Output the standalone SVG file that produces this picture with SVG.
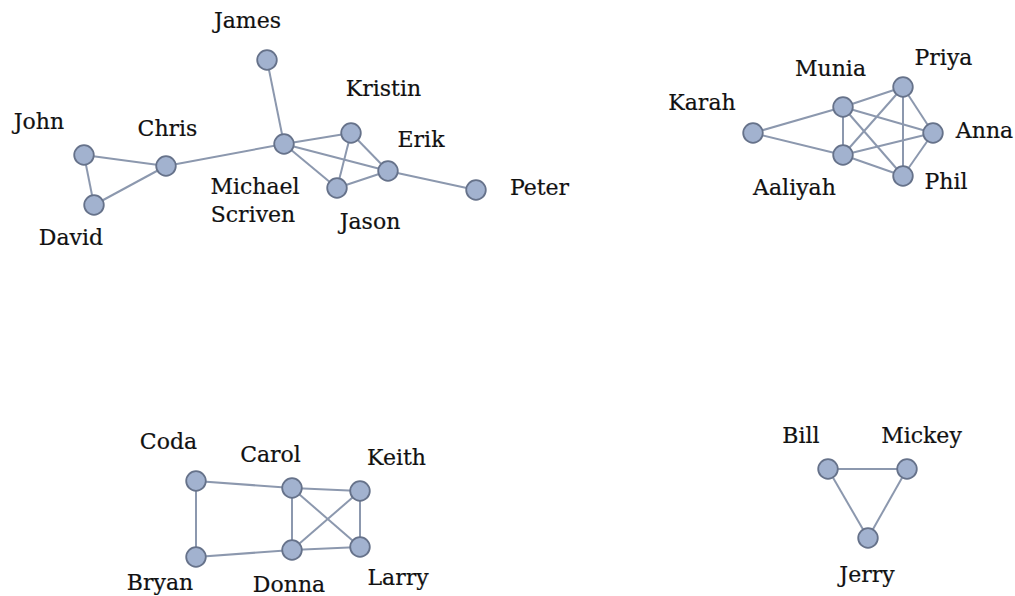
<svg xmlns="http://www.w3.org/2000/svg" width="1015" height="596" viewBox="0 0 1015 596">
<style>
.e{stroke:#8c98ae;stroke-width:2;fill:none}
.n{fill:#a2b2cf;stroke:#66728a;stroke-width:1.8}
.t{font-family:"DejaVu Serif","Liberation Serif",serif;font-size:22px;fill:#111111;text-anchor:middle;stroke:#111111;stroke-width:0.2}
</style>
<rect width="1015" height="596" fill="#ffffff"/>
<g id="connectors">
<line class="e" x1="84" y1="155" x2="166" y2="166"/>
<line class="e" x1="84" y1="155" x2="94" y2="205"/>
<line class="e" x1="94" y1="205" x2="166" y2="166"/>
<line class="e" x1="166" y1="166" x2="284" y2="144"/>
<line class="e" x1="267" y1="60" x2="284" y2="144"/>
<line class="e" x1="284" y1="144" x2="351" y2="133"/>
<line class="e" x1="284" y1="144" x2="388" y2="171"/>
<line class="e" x1="284" y1="144" x2="337" y2="188"/>
<line class="e" x1="351" y1="133" x2="337" y2="188"/>
<line class="e" x1="351" y1="133" x2="388" y2="171"/>
<line class="e" x1="337" y1="188" x2="388" y2="171"/>
<line class="e" x1="388" y1="171" x2="476" y2="190"/>
<line class="e" x1="753" y1="133" x2="843" y2="107"/>
<line class="e" x1="753" y1="133" x2="843" y2="155"/>
<line class="e" x1="843" y1="107" x2="843" y2="155"/>
<line class="e" x1="843" y1="107" x2="903" y2="87"/>
<line class="e" x1="843" y1="107" x2="933" y2="133"/>
<line class="e" x1="843" y1="107" x2="903" y2="176"/>
<line class="e" x1="843" y1="155" x2="903" y2="87"/>
<line class="e" x1="843" y1="155" x2="933" y2="133"/>
<line class="e" x1="843" y1="155" x2="903" y2="176"/>
<line class="e" x1="903" y1="87" x2="933" y2="133"/>
<line class="e" x1="903" y1="87" x2="903" y2="176"/>
<line class="e" x1="933" y1="133" x2="903" y2="176"/>
<line class="e" x1="196" y1="481" x2="292" y2="488"/>
<line class="e" x1="196" y1="481" x2="196" y2="557"/>
<line class="e" x1="196" y1="557" x2="292" y2="550"/>
<line class="e" x1="292" y1="488" x2="292" y2="550"/>
<line class="e" x1="292" y1="488" x2="360" y2="491"/>
<line class="e" x1="292" y1="488" x2="360" y2="547"/>
<line class="e" x1="360" y1="491" x2="292" y2="550"/>
<line class="e" x1="360" y1="491" x2="360" y2="547"/>
<line class="e" x1="292" y1="550" x2="360" y2="547"/>
<line class="e" x1="828" y1="469" x2="907" y2="469"/>
<line class="e" x1="828" y1="469" x2="868" y2="538"/>
<line class="e" x1="907" y1="469" x2="868" y2="538"/>
</g>
<g id="james"><circle class="n" cx="267" cy="60" r="9.8"/><text class="t" x="247.5" y="27.5">James</text></g>
<g id="john"><circle class="n" cx="84" cy="155" r="9.8"/><text class="t" x="39" y="129">John</text></g>
<g id="chris"><circle class="n" cx="166" cy="166" r="9.8"/><text class="t" x="167.5" y="136">Chris</text></g>
<g id="david"><circle class="n" cx="94" cy="205" r="9.8"/><text class="t" x="71" y="245">David</text></g>
<g id="michael"><circle class="n" cx="284" cy="144" r="9.8"/><text class="t" x="255" y="194">Michael</text><text class="t" x="253" y="222">Scriven</text></g>
<g id="kristin"><circle class="n" cx="351" cy="133" r="9.8"/><text class="t" x="383.5" y="95.5">Kristin</text></g>
<g id="erik"><circle class="n" cx="388" cy="171" r="9.8"/><text class="t" x="421" y="147">Erik</text></g>
<g id="jason"><circle class="n" cx="337" cy="188" r="9.8"/><text class="t" x="370" y="229">Jason</text></g>
<g id="peter"><circle class="n" cx="476" cy="190" r="9.8"/><text class="t" x="539.5" y="195">Peter</text></g>
<g id="karah"><circle class="n" cx="753" cy="133" r="9.8"/><text class="t" x="702" y="110">Karah</text></g>
<g id="munia"><circle class="n" cx="843" cy="107" r="9.8"/><text class="t" x="830.5" y="75.5">Munia</text></g>
<g id="aaliyah"><circle class="n" cx="843" cy="155" r="9.8"/><text class="t" x="794.5" y="195">Aaliyah</text></g>
<g id="priya"><circle class="n" cx="903" cy="87" r="9.8"/><text class="t" x="943.5" y="65">Priya</text></g>
<g id="anna"><circle class="n" cx="933" cy="133" r="9.8"/><text class="t" x="984.5" y="138">Anna</text></g>
<g id="phil"><circle class="n" cx="903" cy="176" r="9.8"/><text class="t" x="946" y="188.5">Phil</text></g>
<g id="coda"><circle class="n" cx="196" cy="481" r="9.8"/><text class="t" x="168.5" y="449">Coda</text></g>
<g id="carol"><circle class="n" cx="292" cy="488" r="9.8"/><text class="t" x="270.5" y="462">Carol</text></g>
<g id="keith"><circle class="n" cx="360" cy="491" r="9.8"/><text class="t" x="396.5" y="465">Keith</text></g>
<g id="bryan"><circle class="n" cx="196" cy="557" r="9.8"/><text class="t" x="160" y="590">Bryan</text></g>
<g id="donna"><circle class="n" cx="292" cy="550" r="9.8"/><text class="t" x="289" y="592">Donna</text></g>
<g id="larry"><circle class="n" cx="360" cy="547" r="9.8"/><text class="t" x="398" y="585">Larry</text></g>
<g id="bill"><circle class="n" cx="828" cy="469" r="9.8"/><text class="t" x="801" y="443">Bill</text></g>
<g id="mickey"><circle class="n" cx="907" cy="469" r="9.8"/><text class="t" x="921.5" y="443">Mickey</text></g>
<g id="jerry"><circle class="n" cx="868" cy="538" r="9.8"/><text class="t" x="867" y="582">Jerry</text></g>
</svg>
